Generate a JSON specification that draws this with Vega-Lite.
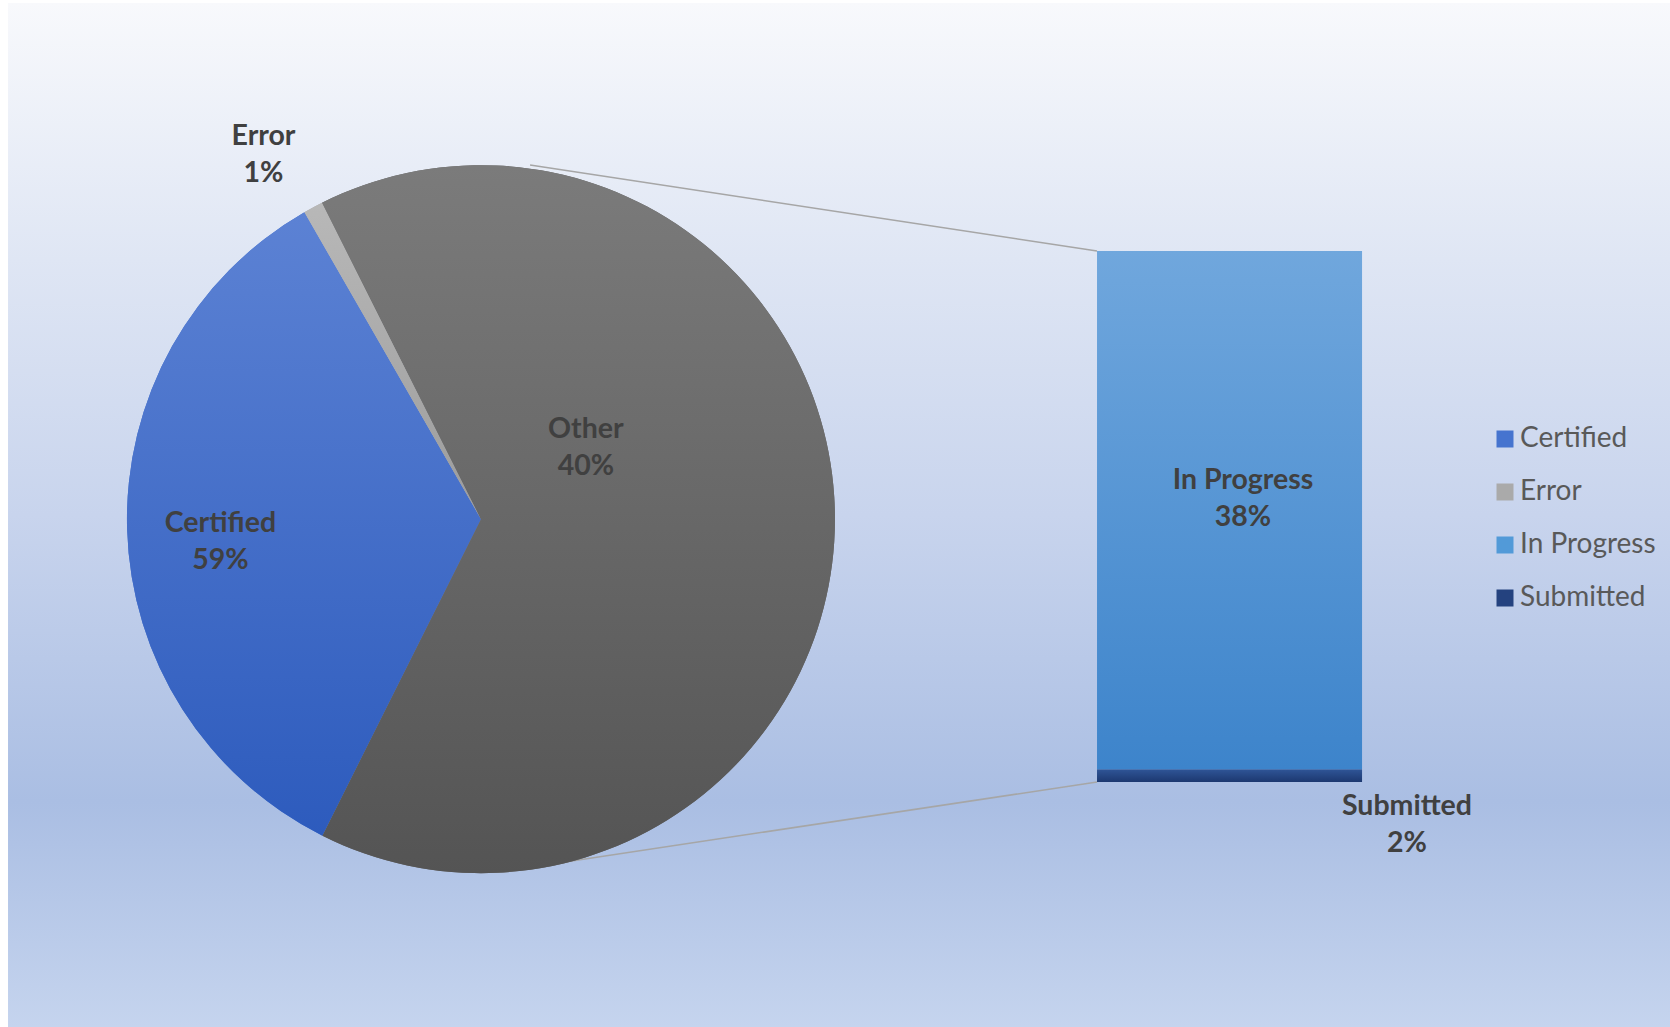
{
  "$schema": "https://vega.github.io/schema/vega-lite/v6.json",
  "width": 1670,
  "height": 1027,
  "padding": 0,
  "autosize": {"type": "fit", "contains": "padding"},
  "background": "#ffffff",
  "config": {
    "view": {"stroke": null},
    "axis": {"disable": true},
    "text": {"font": "Lato", "fontWeight": "bold", "fontSize": 28.5, "color": "#404040", "lineHeight": 37, "baseline": "middle", "align": "center"}
  },
  "datasets": {
    "pie": [
      {"category": "Certified", "share": 34.3, "pct": 59, "order": 1},
      {"category": "Error", "share": 0.9, "pct": 1, "order": 2},
      {"category": "Other", "share": 64.8, "pct": 40, "order": 3}
    ],
    "bar": [
      {"category": "Submitted", "share": 2.4, "pct": 2, "order": 1},
      {"category": "In Progress", "share": 97.6, "pct": 38, "order": 2}
    ]
  },
  "layer": [
    {
      "data": {"values": [{}]},
      "mark": {"type": "rect", "color": {"gradient": "linear", "x1": 0, "y1": 0, "x2": 0, "y2": 1, "stops": [
        {"offset": 0, "color": "#f8f9fc"},
        {"offset": 0.25, "color": "#dfe6f4"},
        {"offset": 0.5, "color": "#c8d4ed"},
        {"offset": 0.78, "color": "#aabee3"},
        {"offset": 1, "color": "#c5d4ee"}
      ]}},
      "encoding": {
        "x": {"datum": 0.48, "type": "quantitative", "scale": {"domain": [0, 100], "nice": false, "zero": false}, "axis": null},
        "x2": {"datum": 100},
        "y": {"datum": 146.7, "type": "quantitative", "scale": {"domain": [-46.14, 147.27], "nice": false, "zero": false}, "axis": null},
        "y2": {"datum": -46.14}
      }
    },
    {
      "data": {"values": [{}]},
      "mark": {"type": "rule", "color": "#a6a6a6", "strokeWidth": 1.5},
      "encoding": {
        "x": {"datum": 31.74, "type": "quantitative"},
        "y": {"datum": 116.2, "type": "quantitative"},
        "x2": {"datum": 65.69},
        "y2": {"datum": 100}
      }
    },
    {
      "data": {"values": [{}]},
      "mark": {"type": "rule", "color": "#a6a6a6", "strokeWidth": 1.5},
      "encoding": {
        "x": {"datum": 31.86, "type": "quantitative"},
        "y": {"datum": -16.0, "type": "quantitative"},
        "x2": {"datum": 65.69},
        "y2": {"datum": 0}
      }
    },
    {
      "data": {"name": "pie"},
      "mark": {"type": "arc", "outerRadius": 354, "stroke": null},
      "encoding": {
        "x": {"datum": 28.8, "type": "quantitative"},
        "y": {"datum": 49.5, "type": "quantitative"},
        "theta": {"field": "share", "type": "quantitative", "stack": true, "scale": {"range": [3.606, 9.889]}},
        "order": {"field": "order", "type": "quantitative"},
        "color": {
          "field": "category", "type": "nominal",
          "scale": {
            "domain": ["Certified", "Error", "In Progress", "Submitted", "Other"],
            "range": ["#4674cf", "#aaaaaa", "#529ad8", "#24427f", "#666666"]
          },
          "legend": {
            "values": ["Certified", "Error", "In Progress", "Submitted"],
            "orient": "none", "legendX": 1491, "legendY": 425, "title": null,
            "symbolType": "square", "symbolSize": 289, "symbolStrokeWidth": 0,
            "labelFont": "Lato", "labelFontSize": 28, "labelColor": "#595959",
            "labelOffset": 1, "rowPadding": 25
          }
        }
      }
    },
    {
      "data": {"name": "pie"},
      "mark": {"type": "arc", "outerRadius": 354, "stroke": null},
      "encoding": {
        "x": {"datum": 28.8, "type": "quantitative"},
        "y": {"datum": 49.5, "type": "quantitative"},
        "theta": {"field": "share", "type": "quantitative", "stack": true},
        "order": {"field": "order", "type": "quantitative"},
        "color": {
          "condition": [
            {"test": "datum.category === 'Certified'", "value": {"gradient": "linear", "x1": 0, "y1": 0, "x2": 0, "y2": 1, "stops": [{"offset": 0, "color": "#5c82d4"}, {"offset": 1, "color": "#2d5bbd"}]}},
            {"test": "datum.category === 'Error'", "value": {"gradient": "linear", "x1": 0, "y1": 0, "x2": 0, "y2": 1, "stops": [{"offset": 0, "color": "#b8b8b8"}, {"offset": 1, "color": "#9c9c9c"}]}}
          ],
          "value": {"gradient": "linear", "x1": 0, "y1": 0, "x2": 0, "y2": 1, "stops": [{"offset": 0, "color": "#7b7b7b"}, {"offset": 1, "color": "#545454"}]}
        }
      }
    },
    {
      "data": {"name": "bar"},
      "transform": [{"stack": "share", "groupby": [], "sort": [{"field": "order", "order": "ascending"}], "as": ["lo", "hi"]}],
      "mark": {"type": "rect"},
      "encoding": {
        "x": {"datum": 65.69, "type": "quantitative"},
        "x2": {"datum": 81.56},
        "y": {"field": "lo", "type": "quantitative"},
        "y2": {"field": "hi"},
        "color": {
          "condition": [
            {"test": "datum.category === 'In Progress'", "value": {"gradient": "linear", "x1": 0, "y1": 0, "x2": 0, "y2": 1, "stops": [{"offset": 0, "color": "#70a7dd"}, {"offset": 1, "color": "#3d84cb"}]}}
          ],
          "value": {"gradient": "linear", "x1": 0, "y1": 0, "x2": 0, "y2": 1, "stops": [{"offset": 0, "color": "#2f5597"}, {"offset": 1, "color": "#1c3870"}]}
        }
      }
    },
    {
      "data": {"name": "pie"},
      "transform": [{"filter": "datum.category === 'Error'"}, {"calculate": "datum.category + '\\n' + datum.pct + '%'", "as": "label"}],
      "mark": {"type": "text", "lineBreak": "\n"},
      "encoding": {"x": {"datum": 15.78, "type": "quantitative"}, "y": {"datum": 121.6, "type": "quantitative"}, "text": {"field": "label"}}
    },
    {
      "data": {"name": "pie"},
      "transform": [{"filter": "datum.category === 'Other'"}, {"calculate": "datum.category + '\\n' + datum.pct + '%'", "as": "label"}],
      "mark": {"type": "text", "lineBreak": "\n"},
      "encoding": {"x": {"datum": 35.08, "type": "quantitative"}, "y": {"datum": 66.5, "type": "quantitative"}, "text": {"field": "label"}}
    },
    {
      "data": {"name": "pie"},
      "transform": [{"filter": "datum.category === 'Certified'"}, {"calculate": "datum.category + '\\n' + datum.pct + '%'", "as": "label"}],
      "mark": {"type": "text", "lineBreak": "\n"},
      "encoding": {"x": {"datum": 13.2, "type": "quantitative"}, "y": {"datum": 48.8, "type": "quantitative"}, "text": {"field": "label"}}
    },
    {
      "data": {"name": "bar"},
      "transform": [{"filter": "datum.category === 'In Progress'"}, {"calculate": "datum.category + '\\n' + datum.pct + '%'", "as": "label"}],
      "mark": {"type": "text", "lineBreak": "\n"},
      "encoding": {"x": {"datum": 74.43, "type": "quantitative"}, "y": {"datum": 56.9, "type": "quantitative"}, "text": {"field": "label"}}
    },
    {
      "data": {"name": "bar"},
      "transform": [{"filter": "datum.category === 'Submitted'"}, {"calculate": "datum.category + '\\n' + datum.pct + '%'", "as": "label"}],
      "mark": {"type": "text", "lineBreak": "\n"},
      "encoding": {"x": {"datum": 84.25, "type": "quantitative"}, "y": {"datum": -4.5, "type": "quantitative"}, "text": {"field": "label"}}
    }
  ]
}
